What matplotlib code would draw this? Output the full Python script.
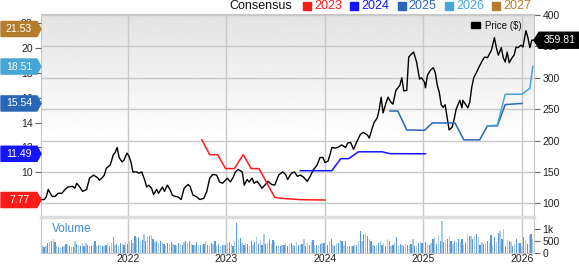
import numpy as np
import matplotlib.pyplot as plt
import matplotlib.transforms as mtransforms
from matplotlib.patches import Polygon, Rectangle

plt.rcParams['font.family'] = ['Liberation Sans', 'DejaVu Sans']

# Price ($), x in fractional years
price_t = [2021.11, 2021.15, 2021.17, 2021.19, 2021.23, 2021.26, 2021.29, 2021.33, 2021.36, 2021.39,
           2021.44, 2021.46, 2021.48, 2021.51, 2021.54, 2021.58, 2021.61, 2021.65, 2021.69, 2021.71,
           2021.74, 2021.76, 2021.78, 2021.82, 2021.85, 2021.87, 2021.89, 2021.91, 2021.94, 2021.96,
           2021.99, 2022.01, 2022.03, 2022.05, 2022.09, 2022.11,
           2022.14, 2022.17, 2022.19, 2022.21, 2022.24, 2022.26, 2022.29, 2022.31, 2022.35, 2022.37,
           2022.40, 2022.43, 2022.45, 2022.48, 2022.51, 2022.54, 2022.57, 2022.61, 2022.63, 2022.66,
           2022.70, 2022.73, 2022.77, 2022.80, 2022.83, 2022.86, 2022.90, 2022.93, 2022.96, 2023.01,
           2023.04,
           2023.07, 2023.09, 2023.12, 2023.16, 2023.18, 2023.21, 2023.23, 2023.26, 2023.28, 2023.31,
           2023.34, 2023.36, 2023.39, 2023.42, 2023.46, 2023.49, 2023.53, 2023.57, 2023.60, 2023.62,
           2023.66, 2023.69, 2023.72, 2023.75, 2023.78, 2023.82, 2023.85, 2023.88, 2023.92, 2023.95,
           2023.98, 2024.00,
           2024.03, 2024.05, 2024.07, 2024.10, 2024.13, 2024.17, 2024.21, 2024.23, 2024.26, 2024.29,
           2024.32, 2024.36, 2024.39, 2024.43, 2024.45, 2024.48, 2024.50, 2024.53, 2024.55, 2024.57,
           2024.59, 2024.62, 2024.64, 2024.67, 2024.69, 2024.72, 2024.74, 2024.76, 2024.78, 2024.80,
           2024.83, 2024.85, 2024.88, 2024.90, 2024.93, 2024.96, 2024.98,
           2025.01, 2025.02, 2025.04, 2025.07, 2025.10, 2025.12, 2025.14, 2025.16, 2025.18, 2025.20,
           2025.22, 2025.24, 2025.26, 2025.29, 2025.31, 2025.33, 2025.35, 2025.37, 2025.39, 2025.40,
           2025.43, 2025.45, 2025.47, 2025.49, 2025.51, 2025.54, 2025.56, 2025.59, 2025.60, 2025.62,
           2025.65, 2025.69, 2025.72, 2025.74, 2025.76, 2025.79, 2025.81, 2025.83, 2025.85, 2025.87,
           2025.90, 2025.92, 2025.94, 2025.96, 2025.99,
           2026.01, 2026.04, 2026.06, 2026.08, 2026.10, 2026.12]
price_v = [106, 106, 110, 122, 111, 111, 116, 116, 122, 126,
           127, 124, 132, 126, 119, 122, 140, 145, 141, 137,
           141, 145, 156, 161, 177, 181, 189, 173, 166, 169,
           180, 175, 166, 150, 150, 148,
           150, 137, 126, 129, 124, 114, 122, 116, 126, 119,
           129, 121, 113, 111, 110, 106, 124, 130, 127, 113,
           110, 106, 108, 119, 140, 146, 145, 134, 132, 140,
           134,
           142, 150, 154, 150, 129, 138, 134, 140, 132, 135,
           129, 124, 129, 135, 130, 129, 145, 150, 146, 138,
           148, 150, 143, 145, 142, 135, 143, 153, 161, 173,
           173, 165,
           167, 177, 189, 188, 189, 193, 189, 196, 197, 186,
           197, 210, 213, 209, 204, 220, 229, 236, 249, 269,
           244, 260, 269, 261, 258, 280, 284, 288, 300, 279,
           280, 333, 338, 341, 325, 298, 300,
           293, 284, 304, 312, 316, 308, 288, 277, 257, 253,
           257, 237, 217, 221, 233, 249, 257, 264, 252, 264,
           257, 252, 261, 285, 300, 309, 316, 325, 328, 333,
           332, 344, 364, 348, 336, 348, 332, 325, 341, 324,
           332, 336, 349, 348, 352,
           349, 375, 364, 348, 360, 359.81]

# Consensus EPS estimates by fiscal year
eps_2023_t = [2022.75, 2022.83, 2022.91, 2022.99, 2023.08, 2023.17, 2023.25, 2023.33, 2023.49, 2023.57, 2023.75, 2024.00]
eps_2023_v = [12.61, 11.42, 11.42, 10.30, 10.30, 11.42, 10.30, 10.30, 7.98, 7.90, 7.80, 7.77]
eps_2024_t = [2023.75, 2024.07, 2024.16, 2024.24, 2024.34, 2024.58, 2024.66, 2025.02]
eps_2024_v = [10.13, 10.13, 11.10, 11.10, 11.65, 11.65, 11.50, 11.49]
eps_2025_t = [2024.66, 2024.74, 2024.83, 2025.01, 2025.09, 2025.32, 2025.41, 2025.57, 2025.65, 2025.75, 2025.83, 2026.00]
eps_2025_v = [14.93, 14.93, 13.41, 13.38, 13.97, 13.97, 12.61, 12.61, 13.73, 13.73, 15.45, 15.54]
eps_2026_t = [2025.65, 2025.75, 2025.83, 2026.00, 2026.08, 2026.11]
eps_2026_v = [13.73, 13.80, 16.28, 16.28, 16.76, 18.51]
eps_2027_last = 21.53

# Weekly volume (thousands of shares)
volume = [350, 250, 300, 400, 450, 480, 580, 450, 300, 250, 220, 250, 300, 380, 350, 300, 260,
          250, 480, 380, 350, 300, 430, 280, 420, 330, 300, 280, 350, 500, 300, 350, 320, 300,
          300, 350, 420, 300, 400, 650, 330, 380, 300, 420,
          380, 350, 470, 380, 500, 560, 400, 700, 620, 650, 500, 560, 800, 520, 650, 700, 740, 600,
          450, 520, 420, 480, 440, 380, 350, 400, 380, 450,
          380, 350, 300, 400, 380, 350, 460, 520, 420, 480, 380, 320, 350, 450, 330, 340, 330, 380,
          500, 340, 380, 420, 380, 520, 300, 370, 280,
          320, 350, 350, 400, 450, 380, 300, 500, 1240, 600, 620, 420, 350, 400, 380, 300, 500, 350,
          450, 650, 380, 550, 350, 800, 380, 420, 600, 380, 550, 450, 300, 350, 280, 320, 350, 400,
          300, 380, 400, 350, 280, 450, 350, 350, 380, 600, 300, 400, 350, 450, 550, 350,
          340, 350, 370, 420, 420, 400, 320, 500, 580, 350, 300, 420, 400, 550, 500, 320, 480, 300,
          280, 300, 300, 380, 350, 500, 900, 520, 800, 850, 700, 580, 520, 350, 300, 350, 400, 500,
          350, 400, 300, 600, 480, 300, 330, 400, 650, 300, 360, 330, 280, 380, 350, 350, 380, 600, 300,
          300, 400, 450, 400, 320, 450, 380, 350, 420, 600, 680, 380, 700, 500, 1330, 450, 550, 600,
          700, 500, 380, 500, 450, 600, 450, 600, 350, 400, 800, 720, 720, 600, 700, 800, 650, 350,
          450, 360, 420, 500, 400, 750, 350, 650, 450, 850, 900, 600, 1000, 300, 550, 500, 450, 300,
          380, 580, 400, 400, 300,
          650, 550, 380, 750, 800, 600]

years = [2022, 2023, 2024, 2025, 2026]
price_ticks = [100, 150, 200, 250, 300, 350, 400]
eps_ticks = [8, 10, 12, 14, 16, 18, 20, 22]
legend_years = ['2023', '2024', '2025', '2026', '2027']

c23, c24, c25, c26, c27 = '#FF1A1A', '#1414FF', '#2966B8', '#47A6D6', '#B47D2D'
grid_c = '#C8C8C8'

W, H = 579, 264
def fx(px):
    return px / W
def fy(py):
    return 1 - py / H

fig = plt.figure(figsize=(W / 100, H / 100), dpi=100)
xlim = (2021.117, 2026.122)
plim = (78.2, 401.6)
elim = (10 + (plim[0] - 149.4) / 19.8, 10 + (plim[1] - 149.4) / 19.8)

# price panel (right axis) + EPS twin (left axis)
ax = fig.add_axes([fx(41), fy(217), fx(534) - fx(41), fy(14) - fy(217)])
ae = ax.twinx()
ax.yaxis.tick_right()
ae.yaxis.tick_left()

grad = np.linspace(0, 1, 200)
grad = 0.89 + 0.11 * np.clip(grad / 0.62, 0, 1)
ax.imshow(grad[:, None], extent=[0, 1, 0, 1], transform=ax.transAxes, aspect='auto',
          cmap='gray', vmin=0, vmax=1, zorder=0)
ax.set_xlim(xlim)
ax.set_ylim(plim)
ax.plot(price_t, price_v, color='black', lw=1.0, zorder=3)
ax.set_yticks(price_ticks)
ax.set_xticks(years)
ax.tick_params(axis='x', length=0, labelbottom=False)
ax.tick_params(axis='y', length=4, color='#666666', labelsize=7.5, labelcolor='#222222', pad=2)
ax.grid(color=grid_c, lw=1)
ax.set_axisbelow(True)
for s in ax.spines.values():
    s.set_color(grid_c)

# price tag on the right
trp = mtransforms.blended_transform_factory(ax.transAxes, ax.transData)
last = price_v[-1]
hh = 8 / 0.6277
ax.add_patch(Polygon([[1.0, last], [1 + 5 / 493, last + hh], [1 + 46 / 493, last + hh],
                      [1 + 46 / 493, last - hh], [1 + 5 / 493, last - hh]],
                     closed=True, transform=trp, color='black', clip_on=False, zorder=10))
ax.text(1 + 26 / 493, last, f'{last:.2f}', transform=trp, color='white', fontsize=7.5,
        ha='center', va='center', clip_on=False, zorder=11)

# price legend
fig.add_artist(Rectangle((fx(471), fy(28)), fx(9), 6 / H, transform=fig.transFigure, color='black'))
fig.text(fx(485), fy(26), 'Price ($)', fontsize=7, va='center', ha='left', color='#111111')

# EPS lines
ae.set_ylim(elim)
ae.set_yticks(eps_ticks)
ae.tick_params(axis='y', length=4, color='#666666', labelsize=7.5, labelcolor='#222222', pad=2)
for s in ae.spines.values():
    s.set_visible(False)
ae.plot(eps_2023_t, eps_2023_v, color=c23, lw=1.1)
ae.plot(eps_2024_t, eps_2024_v, color=c24, lw=1.1)
ae.plot(eps_2025_t, eps_2025_v, color=c25, lw=1.1)
ae.plot(eps_2026_t, eps_2026_v, color=c26, lw=1.1)

tre = mtransforms.blended_transform_factory(ae.transAxes, ae.transData)
eh = 7.5 / 12.34
tags = [(eps_2027_last, c27), (eps_2026_v[-1], c26), (eps_2025_v[-1], c25),
        (eps_2024_v[-1], c24), (eps_2023_v[-1], c23)]
for val, col in tags:
    ae.add_patch(Polygon([[0.0, val], [-4 / 493, val + eh], [-40 / 493, val + eh],
                          [-40 / 493, val - eh], [-4 / 493, val - eh]],
                         closed=True, transform=tre, color=col, clip_on=False, zorder=10))
    ae.text(-22 / 493, val, f'{val:.2f}', transform=tre, color='white', fontsize=7.5,
            ha='center', va='center', clip_on=False, zorder=11)

# volume panel
vax = fig.add_axes([fx(41), fy(253), fx(534) - fx(41), fy(217) - fy(253)])
vx = np.linspace(2021.13, 2026.11, len(volume))
step = vx[1] - vx[0]
vcols = ['#A9C9E9' if i % 2 == 0 else '#5B9BD5' for i in range(len(volume))]
vax.bar(vx, volume, width=step * 0.7, color=vcols, zorder=2)
vax.set_xlim(xlim)
vax.set_ylim(0, 1500)
vax.set_xticks(years)
vax.set_xticklabels([str(y) for y in years])
vax.xaxis.grid(True, color=grid_c, lw=1, zorder=0)
vax.yaxis.tick_right()
vax.set_yticks([0, 500, 1000])
vax.set_yticklabels(['0', '500', '1k'])
vax.tick_params(axis='y', length=4, color='#666666', labelsize=7.5, labelcolor='#222222', pad=2)
vax.tick_params(axis='x', length=0, labelsize=7.5, labelcolor='#222222', pad=1)
for s in vax.spines.values():
    s.set_color(grid_c)
vax.spines['top'].set_color('#DDDDDD')
vax.spines['top'].set_linewidth(2.5)
vax.text(0.022, 0.66, 'Volume', transform=vax.transAxes, fontsize=8.5, color='#3D8BD0',
         ha='left', va='center')

# consensus legend at top
fig.text(fx(229), fy(6), 'Consensus', fontsize=9, va='center', ha='left', color='#111111')
leg_colors = [c23, c24, c25, c26, c27]
for i, (lab, col) in enumerate(zip(legend_years, leg_colors)):
    x0 = 303 + i * 47.3
    fig.add_artist(Rectangle((fx(x0), fy(10)), fx(8), 8 / H, transform=fig.transFigure, color=col))
    fig.text(fx(x0 + 11), fy(6), lab, fontsize=9, va='center', ha='left', color=col)

fig.savefig('out.png', dpi=100)
